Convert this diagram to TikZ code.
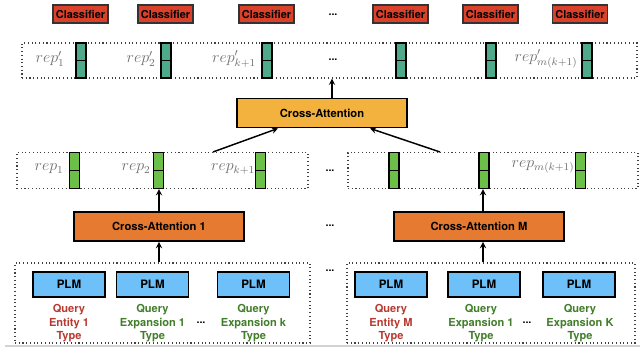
\documentclass[tikz,border=0pt]{standalone}
\usepackage{fontspec}
\setmainfont{TeX Gyre Heros}
\usetikzlibrary{positioning,calc}

\definecolor{clsred}{HTML}{D9412B}
\definecolor{tealc}{HTML}{4DAA8B}
\definecolor{greenc}{HTML}{6CBF47}
\definecolor{cayellow}{HTML}{F3B13E}
\definecolor{caorange}{HTML}{E67A30}
\definecolor{plmblue}{HTML}{6EC1F8}
\definecolor{entred}{HTML}{B73A30}
\definecolor{expgreen}{HTML}{417D2A}
\definecolor{repgray}{HTML}{707070}

\begin{document}
\begin{tikzpicture}[x=0.75pt,y=-0.75pt,
  clsbox/.style={draw=black!80, line width=0.8pt, fill=clsred, minimum width=41.25pt, minimum height=13.5pt, inner sep=0pt, font=\fontsize{8.2}{9}\selectfont\bfseries},
  cabox/.style={draw=black, line width=1.1pt, minimum width=127.5pt, minimum height=22pt, inner sep=0pt, font=\fontsize{8.4}{9}\selectfont\bfseries},
  plmbox/.style={draw=black, line width=1.1pt, fill=plmblue, minimum width=54pt, minimum height=18.75pt, inner sep=0pt, font=\fontsize{8.7}{10}\selectfont\bfseries},
  cell/.style={draw=black, line width=0.9pt, minimum width=7.5pt, inner sep=0pt,
    path picture={\draw[line width=0.9pt] (path picture bounding box.west) -- (path picture bounding box.east);}},
  rowbox/.style={draw=black!75, dotted, line width=0.8pt, inner sep=0pt},
  rep/.style={text=repgray, font=\fontsize{12}{14}\selectfont},
  qtext/.style={align=center, font=\fontsize{8.3}{10.1}\selectfont\bfseries},
  dots/.style={font=\fontsize{8}{9}\selectfont\bfseries},
  arr/.style={-stealth, line width=1.1pt}
]
  \useasboundingbox (0,0) rectangle (640,354);
  % Classifiers
  \node[clsbox] (cls1) at (80.5,14) {Classifier};
  \node[clsbox] (cls2) at (165.5,14) {Classifier};
  \node[clsbox] (cls3) at (266.5,14) {Classifier};
  \node[dots] (dotsA) at (333,15) {...};
  \node[clsbox] (cls4) at (400.5,14) {Classifier};
  \node[clsbox] (cls5) at (490.5,14) {Classifier};
  \node[clsbox] (cls6) at (580,14) {Classifier};
  % Top row of representations
  \node[rowbox, minimum width=461.25pt, minimum height=26.25pt] (rowT) at (329.5,60.5) {};
  \foreach \x/\n in {81/t1,166/t2,267/t3,401/t4,491/t5,587/t6}
    \node[cell, fill=tealc, minimum height=26.25pt] (\n) at (\x,60.5) {};
  \node[rep] (rT1) at (50,59) {$rep'_{1}$};
  \node[rep] (rT2) at (141,59) {$rep'_{2}$};
  \node[rep] (rT3) at (234,59) {$rep'_{k+1}$};
  \node[dots] (dotsB) at (333,60) {...};
  \node[rep] (rT4) at (546,59) {$rep'_{m(k+1)}$};
  % Cross-Attention
  \node[cabox, fill=cayellow] (ca) at (322,113) {Cross-Attention};
  \draw[arr] ([xshift=7.5pt]ca.north) -- ([xshift=7.5pt]ca.north |- rowT.south);
  % Middle rows
  \node[rowbox, minimum width=218.25pt, minimum height=27pt] (rowL) at (162.5,170.5) {};
  \node[rowbox, minimum width=217.5pt, minimum height=27pt] (rowR) at (493,170.5) {};
  \foreach \x/\n in {74.5/g1,158.5/g2,260.5/g3,394/g4,484/g5,580.5/g6}
    \node[cell, fill=greenc, minimum height=27pt] (\n) at (\x,170.5) {};
  \node[rep] (rM1) at (49,169) {$rep_{1}$};
  \node[rep] (rM2) at (136,169) {$rep_{2}$};
  \node[rep] (rM3) at (233,169) {$rep_{k+1}$};
  \node[dots] (dotsC) at (330,171) {...};
  \node[rep] (rM4) at (543,167) {$rep_{m(k+1)}$};
  \draw[arr] ([xshift=37.9pt]rowL.north) -- ([xshift=-33pt]ca.south);
  \draw[arr] ([xshift=-39.75pt]rowR.north) -- ([xshift=36pt]ca.south);
  % Cross-Attention 1 ... M
  \node[cabox, fill=caorange] (ca1) at (159,226.5) {Cross-Attention 1};
  \node[dots] (dotsD) at (330,226) {...};
  \node[cabox, fill=caorange] (caM) at (479,226.5) {Cross-Attention M};
  \draw[arr] (ca1.north) -- (ca1.north |- rowL.south);
  \draw[arr] ([xshift=3pt]caM.north) -- ([xshift=3pt]caM.north |- rowR.south);
  % PLM encoders
  \node[rowbox, minimum width=221.25pt, minimum height=60pt] (rowBL) at (162.5,303) {};
  \node[rowbox, minimum width=216pt, minimum height=60pt] (rowBR) at (491,303) {};
  \draw[arr] (ca1.south |- rowBL.north) -- (ca1.south);
  \draw[arr] ([xshift=3pt]caM.south |- rowBR.north) -- ([xshift=3pt]caM.south);
  \node[dots] (dotsE) at (330,271) {...};
  \foreach \x/\n in {69/p1,152.5/p2,253.5/p3,391/p4,484/p5,579/p6}
    \node[plmbox] (\n) at (\x,284.5) {PLM};
  \node[qtext, text=entred] (q1) at (69,323.5) {Query\\Entity 1\\Type};
  \node[qtext, text=expgreen] (q2) at (152.5,323.5) {Query\\Expansion 1\\Type};
  \node[dots] (dotsF) at (201,323) {...};
  \node[qtext, text=expgreen] (q3) at (253.5,323.5) {Query\\Expansion k\\Type};
  \node[qtext, text=entred] (q4) at (391,323.5) {Query\\Entity M\\Type};
  \node[qtext, text=expgreen] (q5) at (481,323.5) {Query\\Expansion 1\\Type};
  \node[dots] (dotsG) at (527,323) {...};
  \node[qtext, text=expgreen] (q6) at (580,323.5) {Query\\Expansion K\\Type};
  % page edge
  \draw[gray!35, line width=1.5pt] (5,346) -- (640,346);
\end{tikzpicture}
\end{document}
